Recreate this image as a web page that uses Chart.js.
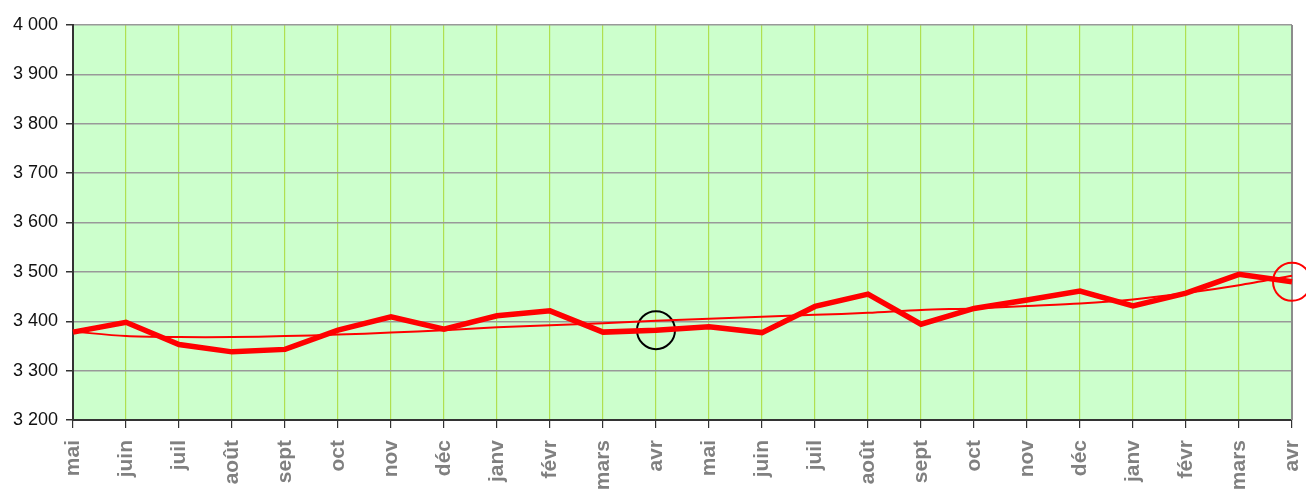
<!DOCTYPE html>
<html>
<head>
<meta charset="utf-8">
<script src="https://cdn.jsdelivr.net/npm/chart.js@4/dist/chart.umd.min.js"></script>
<style>
  html, body { margin: 0; padding: 0; background: #fff; }
  #wrap { width: 1306px; height: 489px; }
</style>
</head>
<body>
<div id="wrap"><canvas id="chart" width="1306" height="489"></canvas></div>
<script>
// months, two years
const months = ['mai', 'juin', 'juil', 'août', 'sept', 'oct', 'nov', 'déc', 'janv', 'févr', 'mars', 'avr',
                'mai', 'juin', 'juil', 'août', 'sept', 'oct', 'nov', 'déc', 'janv', 'févr', 'mars', 'avr'];
// monthly values
const values = [3378, 3398, 3353, 3338, 3343, 3382, 3409, 3384, 3411, 3421, 3378, 3382,
                3389, 3377, 3430, 3455, 3394, 3426, 3443, 3461, 3431, 3457, 3495, 3480];
// thin trend curve
const trend = [3379, 3370, 3368, 3368, 3370, 3373, 3377, 3382, 3388, 3392, 3396, 3401,
               3405, 3409, 3413, 3417, 3423, 3426, 3431, 3436, 3444, 3457, 3473, 3492];
// circled points (index -> colour)
const circled = { 11: '#000000', 23: '#ff0000' };
const yTicks = { min: 3200, max: 4000, step: 100 };

const markerData = values.map((v, i) => (i in circled ? v : null));
const markerColors = values.map((v, i) => circled[i] || 'transparent');

function fmt(n) {
  return String(n).replace(/\B(?=(\d{3})+(?!\d))/g, ' ');
}

const plotBg = {
  id: 'plotBg',
  beforeDraw(chart) {
    const { ctx, chartArea: a } = chart;
    ctx.save();
    ctx.fillStyle = '#ccffcc';
    ctx.fillRect(a.left, a.top, a.right - a.left, a.bottom - a.top);
    ctx.restore();
  },
  beforeDatasetsDraw(chart) {
    const { ctx, chartArea: a } = chart;
    ctx.save();
    ctx.strokeStyle = '#8c8c8c';
    ctx.lineWidth = 2;
    ctx.beginPath();
    ctx.moveTo(a.right, a.top);
    ctx.lineTo(a.right, a.bottom);
    ctx.stroke();
    ctx.restore();
  }
};

new Chart(document.getElementById('chart'), {
  type: 'line',
  data: {
    labels: months,
    datasets: [
      {
        data: trend,
        borderColor: '#ff0000',
        borderWidth: 2,
        pointRadius: 0,
        tension: 0.3
      },
      {
        data: values,
        borderColor: '#ff0000',
        borderWidth: 5.5,
        pointRadius: 0,
        tension: 0
      },
      {
        data: markerData,
        showLine: false,
        pointRadius: 19,
        pointBorderWidth: 2,
        pointBorderColor: markerColors,
        pointBackgroundColor: 'transparent',
        clip: false
      }
    ]
  },
  plugins: [plotBg],
  options: {
    responsive: false,
    animation: false,
    layout: { autoPadding: false, padding: { top: 25, right: 14, left: 0, bottom: 0 } },
    plugins: { legend: { display: false }, tooltip: { enabled: false } },
    scales: {
      x: {
        offset: false,
        afterFit(s) { s.height = 69; s.paddingLeft = 0; s.paddingRight = 0; },
        border: { color: '#333333', width: 2 },
        grid: { color: '#b0e050', lineWidth: 1.2, tickLength: 8, tickColor: '#333333', drawOnChartArea: true },
        ticks: {
          minRotation: 90, maxRotation: 90, autoSkip: false, padding: 12,
          color: '#808080',
          font: { family: 'Liberation Sans, Arial, sans-serif', size: 21, weight: 'bold' }
        }
      },
      y: {
        min: yTicks.min, max: yTicks.max,
        afterFit(s) { s.width = 73; s.paddingTop = 0; s.paddingBottom = 0; },
        border: { color: '#333333', width: 2 },
        grid: { color: '#999999', lineWidth: 1.5, tickLength: 7, tickColor: '#333333' },
        ticks: {
          stepSize: yTicks.step, padding: 8,
          color: '#111111',
          font: { family: 'Liberation Sans, Arial, sans-serif', size: 18 },
          callback: v => fmt(v)
        }
      }
    }
  }
});
</script>
</body>
</html>
